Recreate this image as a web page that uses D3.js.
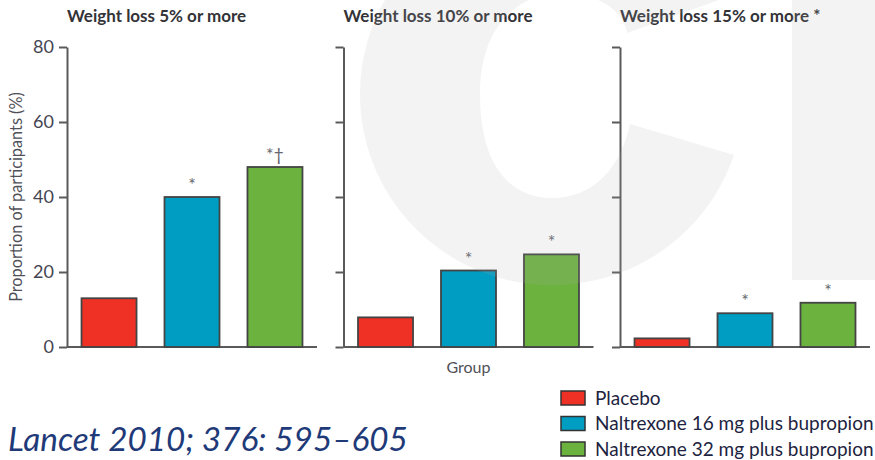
<!DOCTYPE html>
<html>
<head>
<meta charset="utf-8">
<script src="https://cdn.jsdelivr.net/npm/d3@7"></script>
<style>
  html, body { margin: 0; padding: 0; background: #ffffff; }
  svg { display: block; }
</style>
</head>
<body>
<svg id="chart" width="875" height="460"></svg>
<script>
// Proportion of participants reaching each weight-loss threshold, by group
const panelTitles = ["Weight loss 5% or more", "Weight loss 10% or more", "Weight loss 15% or more *"];
const groups = ["Placebo", "Naltrexone 16 mg plus bupropion", "Naltrexone 32 mg plus bupropion"];
const placebo = [13, 7.9, 2.3];
const nb16 = [40, 20.4, 9];
const nb32 = [48, 24.7, 11.8];
const notes16 = ["*", "*", "*"];
const notes32 = ["*†", "*", "*"];
const yTicks = [0, 20, 40, 60, 80];
const groupColors = ["#ee3124", "#009dc2", "#6bb23e"];
const yLabel = "Proportion of participants (%)";
const xLabel = "Group";
const citation = "Lancet 2010; 376: 595–605";

const svg = d3.select("#chart");

const y = d3.scaleLinear().domain([0, 80]).range([347, 47]);
const panelX = d3.scalePoint().domain(panelTitles).range([67, 620]);
const panelWidth = 250;
const x = d3.scaleBand().domain(groups).range([0, panelWidth])
  .paddingInner(0.337).paddingOuter(0.175);
const color = d3.scaleOrdinal().domain(groups).range(groupColors);

const axisColor = "#5a5a5a";
const textColor = "#454552";

// shrink or grow a text's font size so it spans the given width
function fitWidth(sel, width) {
  const node = sel.node();
  const fs = parseFloat(sel.attr("font-size"));
  const w = node.getComputedTextLength();
  if (w > 0) sel.attr("font-size", (fs * width / w).toFixed(2));
  return sel;
}

const seriesValues = [placebo, nb16, nb32];
const seriesNotes = [null, notes16, notes32];

panelTitles.forEach((title, i) => {
  const g = svg.append("g").attr("transform", `translate(${panelX(title)},0)`);
  const rows = groups.map((grp, k) => ({
    group: grp,
    value: seriesValues[k][i],
    note: seriesNotes[k] ? seriesNotes[k][i] : null
  }));

  // panel title
  g.append("text")
    .attr("x", 0).attr("y", 22)
    .attr("font-family", "Lato, sans-serif")
    .attr("font-weight", 700)
    .attr("font-size", 17)
    .attr("fill", "#333338")
    .text(title);

  // y axis
  const axis = d3.axisLeft(y).tickValues(yTicks).tickSize(8).tickSizeOuter(0).tickPadding(5);
  if (i > 0) axis.tickFormat("");
  const ax = g.append("g").call(axis);
  ax.select(".domain").attr("stroke", axisColor).attr("stroke-width", 2);
  ax.selectAll(".tick line").attr("stroke", axisColor).attr("stroke-width", 2);
  ax.selectAll(".tick text")
    .attr("font-family", "Lato, sans-serif")
    .attr("font-size", 18)
    .attr("fill", textColor);

  // baseline
  g.append("line")
    .attr("x1", 0).attr("x2", panelWidth)
    .attr("y1", y(0)).attr("y2", y(0))
    .attr("stroke", axisColor).attr("stroke-width", 2);

  // bars
  g.selectAll("rect.bar").data(rows).join("rect")
    .attr("class", "bar")
    .attr("x", d => x(d.group))
    .attr("width", x.bandwidth())
    .attr("y", d => y(d.value))
    .attr("height", d => y(0) - y(d.value))
    .attr("fill", d => color(d.group))
    .attr("stroke", "#444")
    .attr("stroke-width", 1.8);

  // significance marks
  g.selectAll("text.note").data(rows.filter(d => d.note)).join("text")
    .attr("class", "note")
    .attr("x", d => x(d.group) + x.bandwidth() / 2)
    .attr("y", d => y(d.value) - 6)
    .attr("text-anchor", "middle")
    .attr("font-family", "Lato, sans-serif")
    .attr("font-size", 18)
    .attr("fill", "#66666e")
    .text(d => d.note);
});

// y axis title
svg.append("text")
  .attr("transform", `translate(22,${(y(0) + y(80)) / 2}) rotate(-90)`)
  .attr("text-anchor", "middle")
  .attr("font-family", "Lato, sans-serif")
  .attr("font-size", 16.3)
  .attr("fill", "#505058")
  .text(yLabel);

// x axis title
svg.append("text")
  .attr("x", panelX(panelTitles[1]) + panelWidth / 2)
  .attr("y", 373)
  .attr("text-anchor", "middle")
  .attr("font-family", "Lato, sans-serif")
  .attr("font-size", 16)
  .attr("fill", "#505058")
  .text(xLabel);

// legend
const legend = svg.append("g").attr("transform", "translate(561,391)");
const lg = legend.selectAll("g").data(groups).join("g")
  .attr("transform", (d, k) => `translate(0,${k * 25.5})`);
lg.append("rect")
  .attr("width", 24).attr("height", 14)
  .attr("fill", d => color(d))
  .attr("stroke", "#333").attr("stroke-width", 1.5);
lg.append("text")
  .attr("x", 34).attr("y", 13.5)
  .attr("font-family", "Lato, sans-serif")
  .attr("font-size", 19)
  .attr("fill", "#1d2340")
  .text(d => d);

// citation
const cite = svg.append("text")
  .attr("x", 8).attr("y", 451)
  .attr("font-family", "Lato, sans-serif")
  .attr("font-style", "italic")
  .attr("font-size", 30)
  .attr("fill", "#1f3a78")
  .text(citation);
fitWidth(cite, 400);

// faint "CI" watermark laid over the panels
const wm = svg.append("g")
  .attr("fill", "rgb(175,175,175)")
  .attr("fill-opacity", 0.15)
  .attr("pointer-events", "none");
wm.append("path")
  .attr("d", "M 734 155 A 192 191 0 1 1 719 0 L 627 33 " +
             "C 620 -20 480 -40 480 95 C 480 165 510 198 552 198 " +
             "C 592 198 620 170 630 124 Z");
wm.append("rect").attr("x", 792).attr("y", 0).attr("width", 83).attr("height", 280);
</script>
</body>
</html>
